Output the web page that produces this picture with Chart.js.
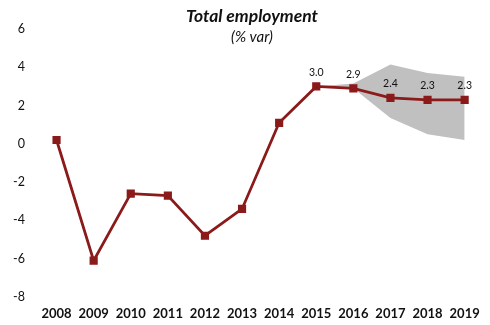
<!DOCTYPE html>
<html>
<head>
<meta charset="utf-8">
<script src="https://cdn.jsdelivr.net/npm/chart.js@4/dist/chart.umd.min.js"></script>
<style>
  html, body { margin: 0; padding: 0; background: #fff; }
  #wrap { width: 490px; height: 325px; }
</style>
</head>
<body>
<div id="wrap"><canvas id="chart"></canvas></div>
<script>
const years = ['2008', '2009', '2010', '2011', '2012', '2013', '2014', '2015', '2016', '2017', '2018', '2019'];
const employment = [0.2, -6.1, -2.6, -2.7, -4.8, -3.4, 1.1, 3.0, 2.9, 2.4, 2.3, 2.3];
const bandUpper = [null, null, null, null, null, null, null, 3.0, 3.15, 4.15, 3.7, 3.5];
const bandLower = [null, null, null, null, null, null, null, 3.0, 2.9, 1.35, 0.5, 0.2];
const labelFrom = 7; // value labels shown from 2015 on

const font = 'Lato, "Open Sans", sans-serif';

const overlay = {
  id: 'overlay',
  afterDatasetsDraw(chart) {
    const ctx = chart.ctx;
    const cx = 252;
    ctx.save();
    ctx.fillStyle = '#111';
    ctx.textAlign = 'center';
    ctx.textBaseline = 'middle';
    ctx.font = 'italic bold 17.5px ' + font;
    ctx.fillText('Total employment', cx, 16);
    ctx.font = 'italic 15px ' + font;
    ctx.fillText('(% var)', cx, 37);

    const meta = chart.getDatasetMeta(2);
    ctx.font = '10.5px ' + font;
    meta.data.forEach((pt, i) => {
      if (i < labelFrom) return;
      ctx.fillText(employment[i].toFixed(1), pt.x, pt.y - 14);
    });
    ctx.restore();
  }
};

new Chart(document.getElementById('chart'), {
  type: 'line',
  data: {
    labels: years,
    datasets: [
      {
        label: 'upper',
        data: bandUpper,
        borderWidth: 0,
        pointRadius: 0,
        backgroundColor: '#c0c0c0',
        fill: '+1',
        tension: 0,
        order: 2
      },
      {
        label: 'lower',
        data: bandLower,
        borderWidth: 0,
        pointRadius: 0,
        fill: false,
        tension: 0,
        order: 2
      },
      {
        label: 'Total employment',
        data: employment,
        borderColor: '#8b1a1a',
        backgroundColor: '#8b1a1a',
        borderWidth: 2.8,
        pointStyle: 'rect',
        pointRadius: 3.8,
        fill: false,
        tension: 0,
        order: 0
      }
    ]
  },
  options: {
    responsive: true,
    maintainAspectRatio: false,
    animation: false,
    layout: { padding: { top: 29, right: 4, left: 0, bottom: 0 } },
    plugins: {
      legend: { display: false },
      tooltip: { enabled: false }
    },
    scales: {
      x: {
        offset: true,
        grid: { display: false, drawTicks: false },
        border: { display: false },
        ticks: {
          color: '#111',
          padding: 9,
          font: { family: font, size: 13, weight: 'bold' }
        },
        afterFit(axis) { axis.height = 28; }
      },
      y: {
        min: -8,
        max: 6,
        grid: { display: false, drawTicks: false },
        border: { display: false },
        ticks: {
          stepSize: 2,
          color: '#111',
          padding: 13,
          font: { family: font, size: 12.5 }
        },
        afterFit(axis) { axis.width = 38; }
      }
    }
  },
  plugins: [overlay]
});
</script>
</body>
</html>
